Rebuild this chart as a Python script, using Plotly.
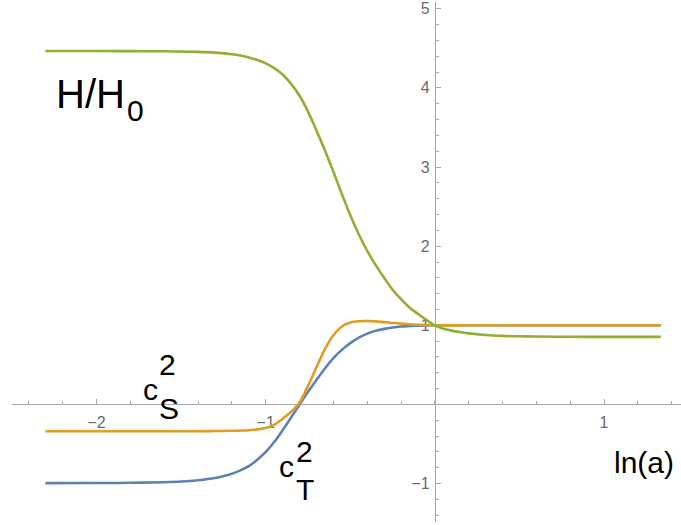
import plotly.graph_objects as go

# ---- data ----
x_H = [-2.3026, -2.0, -1.8, -1.6, -1.4, -1.3, -1.2, -1.15, -1.1, -1.05, -1.0, -0.95, -0.9, -0.85,
       -0.8, -0.75, -0.7, -0.65, -0.6, -0.55, -0.5, -0.45, -0.4, -0.35, -0.3, -0.25, -0.2, -0.15,
       -0.1, -0.05, 0.0, 0.05, 0.1, 0.15, 0.2, 0.3, 0.4, 0.5, 0.6, 0.8, 1.0, 1.335]
H_over_H0 = [4.465, 4.465, 4.464, 4.462, 4.455, 4.445, 4.425, 4.408, 4.385, 4.352, 4.31, 4.25, 4.17, 4.05,
             3.90, 3.70, 3.46, 3.21, 2.94, 2.66, 2.39, 2.15, 1.94, 1.76, 1.60, 1.45, 1.33, 1.225,
             1.145, 1.068, 1.0, 0.958, 0.933, 0.914, 0.898, 0.878, 0.867, 0.861, 0.858, 0.855, 0.854, 0.854]

x_S = [-2.3026, -2.0, -1.6, -1.4, -1.3, -1.2, -1.15, -1.1, -1.05, -1.0, -0.95, -0.9, -0.85,
       -0.8, -0.75, -0.7, -0.65, -0.6, -0.55, -0.5, -0.45, -0.4, -0.35, -0.3, -0.25, -0.2,
       -0.15, -0.1, -0.05, 0.0, 0.2, 0.5, 1.0, 1.335]
cS2 = [-0.339, -0.339, -0.339, -0.338, -0.336, -0.333, -0.330, -0.325, -0.315, -0.298, -0.258, -0.180, -0.092,
       0.025, 0.235, 0.470, 0.700, 0.875, 0.985, 1.035, 1.052, 1.055, 1.050, 1.040, 1.030, 1.021,
       1.014, 1.008, 1.003, 1.0, 1.0, 1.0, 1.0, 1.0]

x_T = [-2.3026, -2.0, -1.8, -1.6, -1.5, -1.4, -1.3, -1.25, -1.2, -1.15, -1.1, -1.05, -1.0,
       -0.95, -0.9, -0.85, -0.8, -0.75, -0.7, -0.65, -0.6, -0.55, -0.5, -0.45, -0.4, -0.35,
       -0.3, -0.25, -0.2, -0.15, -0.1, -0.05, 0.0, 0.2, 0.5, 1.0, 1.335]
cT2 = [-0.994, -0.993, -0.990, -0.982, -0.974, -0.958, -0.930, -0.905, -0.875, -0.832, -0.780, -0.700, -0.600,
       -0.475, -0.325, -0.165, 0.0, 0.160, 0.310, 0.455, 0.585, 0.690, 0.775, 0.845, 0.895, 0.930,
       0.955, 0.972, 0.984, 0.991, 0.996, 0.999, 1.0, 1.0, 1.0, 1.0, 1.0]

x_ticks = [-2, -1, 1]
y_ticks = [-1, 1, 2, 3, 4, 5]
x_range = [-2.5, 1.455]
y_range = [-1.485, 5.085]

BLUE = "#5E81B5"
ORANGE = "#E19C24"
GREEN = "#8FB032"
AXIS = "#a8a8a8"
TICKTXT = "#6a6a6a"
FONT = "Liberation Sans, Arial, sans-serif"

fig = go.Figure()
for xs, ys, col in [(x_T, cT2, BLUE), (x_S, cS2, ORANGE), (x_H, H_over_H0, GREEN)]:
    fig.add_trace(go.Scatter(x=xs, y=ys, mode="lines",
                             line=dict(color=col, width=2.6, shape="spline", smoothing=1.0),
                             hoverinfo="skip", showlegend=False))

xpos = (0 - y_range[0]) / (y_range[1] - y_range[0])
ypos = (0 - x_range[0]) / (x_range[1] - x_range[0])

common = dict(showgrid=False, zeroline=False, showline=True, linecolor=AXIS, linewidth=1.2,
              ticks="inside", ticklen=5, tickwidth=1, tickcolor=AXIS, ticklabeloverflow="allow",
              tickfont=dict(family=FONT, size=16, color=TICKTXT), layer="below traces")

fig.update_xaxes(range=x_range, anchor="free", position=xpos, tickmode="array", tickvals=x_ticks,
                 ticklabelstandoff=3,
                 minor=dict(ticks="inside", dtick=0.2, tick0=0, ticklen=3, tickcolor=AXIS, showgrid=False),
                 **common)
fig.update_yaxes(range=y_range, anchor="free", position=ypos, tickmode="array", tickvals=y_ticks,
                 ticklabelstandoff=2,
                 minor=dict(ticks="inside", dtick=0.2, tick0=0, ticklen=3, tickcolor=AXIS, showgrid=False),
                 **common)

def label(text, x, y, size):
    fig.add_annotation(x=x, y=y, xref="x", yref="y", text=text, showarrow=False,
                       xanchor="center", yanchor="middle",
                       font=dict(family=FONT, size=size, color="black"))

fig.add_annotation(x=-2.249, y=3.927, xref="x", yref="y", text="H/H", showarrow=False,
                   xanchor="left", yanchor="middle", font=dict(family=FONT, size=40, color="black"))
label("0", -1.771, 3.713, 30)
label("c", -1.682, 0.186, 30)
label("2", -1.580, 0.508, 30)
label("S", -1.573, -0.053, 30)
label("c", -0.879, -0.786, 30)
label("2", -0.770, -0.594, 30)
label("T", -0.770, -1.073, 30)
label("ln(a)", 1.236, -0.727, 30)

fig.update_layout(width=681, height=525, autosize=False,
                  margin=dict(l=12, r=0, t=0, b=3),
                  paper_bgcolor="white", plot_bgcolor="white")

fig.write_html("out.html", config={"displayModeBar": False},
               post_script="document.body.style.margin='0';document.body.style.padding='0';")
